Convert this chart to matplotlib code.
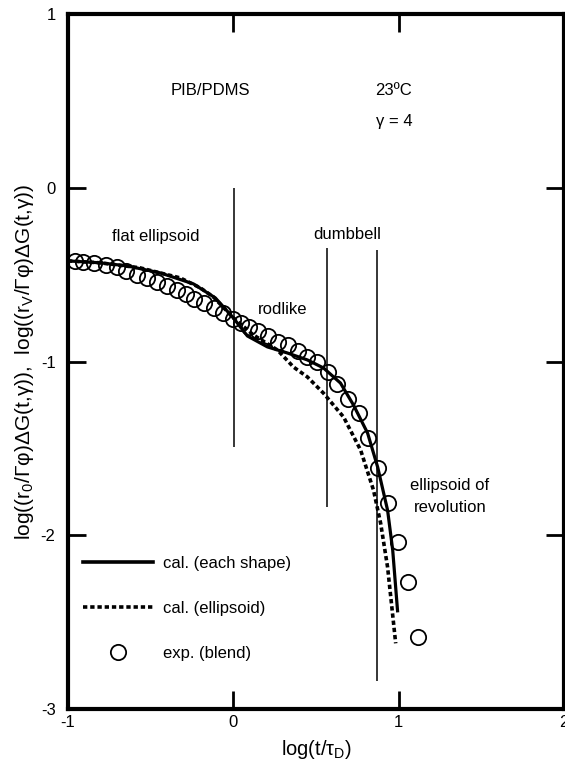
import matplotlib
matplotlib.use("Agg")
import matplotlib.pyplot as plt
from matplotlib.lines import Line2D

plt.rcParams['font.family'] = ['Liberation Sans', 'DejaVu Sans']
plt.rcParams['mathtext.fontset'] = 'custom'
plt.rcParams['mathtext.rm'] = 'Liberation Sans'
plt.rcParams['mathtext.it'] = 'Liberation Sans:italic'
plt.rcParams['axes.unicode_minus'] = False

# experimental (blend) circles
exp_x = [-0.958, -0.909, -0.842, -0.770, -0.703, -0.648, -0.582, -0.521, -0.461, -0.400,
         -0.339, -0.285, -0.236, -0.176, -0.115, -0.061, 0.0, 0.048, 0.097, 0.152,
         0.212, 0.273, 0.333, 0.394, 0.448, 0.509, 0.570, 0.630, 0.691, 0.758,
         0.812, 0.873, 0.933, 0.994, 1.055, 1.115]
exp_y = [-0.421, -0.427, -0.432, -0.444, -0.455, -0.478, -0.501, -0.519, -0.542, -0.565,
         -0.588, -0.611, -0.640, -0.663, -0.692, -0.720, -0.755, -0.778, -0.801, -0.824,
         -0.853, -0.888, -0.905, -0.939, -0.974, -1.003, -1.061, -1.130, -1.216, -1.297,
         -1.441, -1.614, -1.816, -2.040, -2.271, -2.588]

# calculated (each shape) solid line
each_x = [-1.0, -0.806, -0.642, -0.442, -0.242, -0.109, 0.0, 0.085, 0.206, 0.327,
          0.448, 0.545, 0.648, 0.727, 0.812, 0.873, 0.933, 0.964, 0.994]
each_y = [-0.421, -0.432, -0.450, -0.490, -0.553, -0.634, -0.749, -0.853, -0.916, -0.951,
          -0.991, -1.037, -1.124, -1.251, -1.412, -1.608, -1.856, -2.086, -2.444]

# calculated (ellipsoid) dotted line
ell_x = [-1.0, -0.806, -0.564, -0.321, -0.2, -0.121, 0.0, 0.121, 0.267, 0.364,
         0.448, 0.545, 0.667, 0.770, 0.848, 0.891, 0.933, 0.982]
ell_y = [-0.421, -0.432, -0.461, -0.519, -0.576, -0.628, -0.749, -0.847, -0.934, -1.032,
         -1.089, -1.182, -1.320, -1.510, -1.741, -1.931, -2.184, -2.622]

# region boundary lines
bound_x = [0.006, 0.564, 0.867]
bound_ymin = [-1.49, -1.84, -2.84]
bound_ymax = [0.0, -0.346, -0.357]

xticks = [-1, 0, 1, 2]
yticks = [-3, -2, -1, 0, 1]

fig = plt.figure(figsize=(5.65, 7.71), dpi=100)
ax = fig.add_axes([68/565, 62/771, 496/565, 695/771])

ax.vlines(bound_x, bound_ymin, bound_ymax, colors='black', linewidth=1.1)
ax.plot(each_x, each_y, color='black', linewidth=2.3, solid_capstyle='butt')
ax.plot(ell_x, ell_y, color='black', linewidth=2.6, linestyle=(0, (1.2, 0.8)))
ax.plot(exp_x, exp_y, linestyle='none', marker='o', markersize=11,
        markerfacecolor='none', markeredgecolor='black', markeredgewidth=1.3)

ax.set_xlim(-1, 2)
ax.set_ylim(-3, 1)
ax.set_xticks(xticks)
ax.set_yticks(yticks)
ax.set_xticklabels([str(t) for t in xticks])
ax.set_yticklabels([str(t) for t in yticks])
ax.tick_params(direction='in', length=13, width=2, labelsize=12,
               top=True, right=True, pad=4)
ax.tick_params(axis='y', pad=9)
for s in ax.spines.values():
    s.set_linewidth(3)

ax.set_xlabel(r'log(t/τ$\mathregular{_D}$)', fontsize=14.5, labelpad=6)
ax.set_ylabel(r'log((r$\mathregular{_0}$/Γφ)ΔG(t,γ)),  log((r$\mathregular{_V}$/Γφ)ΔG(t,γ))',
              fontsize=15, labelpad=3)

ax.text(-0.14, 0.56, 'PIB/PDMS', fontsize=12, ha='center', va='center')
ax.text(0.86, 0.56, '23ºC', fontsize=12, ha='left', va='center')
ax.text(0.86, 0.38, 'γ = 4', fontsize=12, ha='left', va='center')
ax.text(-0.47, -0.28, 'flat ellipsoid', fontsize=12, ha='center', va='center')
ax.text(0.30, -0.70, 'rodlike', fontsize=12, ha='center', va='center')
ax.text(0.69, -0.27, 'dumbbell', fontsize=12, ha='center', va='center')
ax.text(1.31, -1.778, 'ellipsoid of\nrevolution', fontsize=12, ha='center', va='center',
        linespacing=1.55)

handles = [
    Line2D([], [], color='black', linewidth=2.6),
    Line2D([], [], color='black', linewidth=2.6, linestyle=(0, (1.2, 0.8))),
    Line2D([], [], linestyle='none', marker='o', markersize=11,
           markerfacecolor='none', markeredgecolor='black', markeredgewidth=1.3),
]
labels = ['cal. (each shape)', 'cal. (ellipsoid)', 'exp. (blend)']
ax.legend(handles, labels, loc='upper left', bbox_to_anchor=(0.03, 0.220),
          frameon=False, fontsize=12, handlelength=4.2, handletextpad=0.6,
          labelspacing=1.8, borderpad=0, borderaxespad=0)

fig.savefig('out.png', dpi=100)
